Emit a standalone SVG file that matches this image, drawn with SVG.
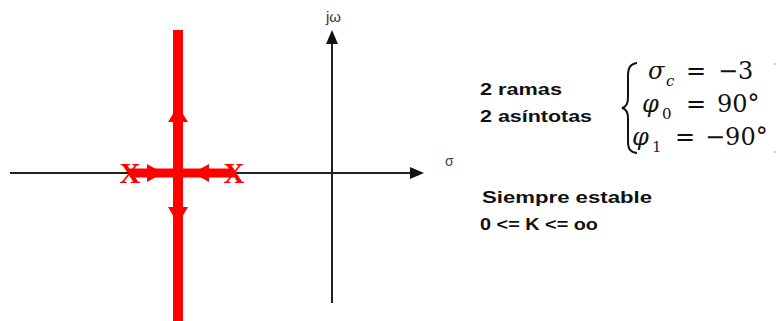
<svg xmlns="http://www.w3.org/2000/svg" width="782" height="321" viewBox="0 0 782 321">
<style>
.axis{stroke:#222;stroke-width:2;fill:none}
.ahead{fill:#111}
.red{stroke:#ff0000;fill:none}
.redfill{fill:#ff0000}
.lbl{font-family:"Liberation Sans",Arial,sans-serif;font-weight:bold;font-size:17px;fill:#111}
.math{font-family:"DejaVu Serif","Liberation Serif",serif;font-size:24px;fill:#111}
.it{font-style:italic}
.sub{font-size:15px}
.xm{font-family:"Liberation Serif","Times New Roman",serif;font-weight:bold;font-size:29px;fill:#ff0000}
</style>
<rect width="782" height="321" fill="#ffffff"/>
<g id="connectors">
  <g id="axes">
    <line class="axis" x1="10" y1="173" x2="412" y2="173"/>
    <polygon class="ahead" points="424,173 410,167 410,179"/>
    <line class="axis" x1="332" y1="303" x2="332" y2="42"/>
    <polygon class="ahead" points="332,30 326,44 338,44"/>
  </g>
  <g id="locus">
    <line class="red" stroke-width="10" x1="178" y1="30" x2="178" y2="321"/>
    <line class="red" stroke-width="9" x1="130" y1="173" x2="234" y2="173"/>
    <polygon class="redfill" points="178,106 168,122 188,122"/>
    <polygon class="redfill" points="178,224 168,207 188,207"/>
    <polygon class="redfill" points="163,173 147,164 147,182"/>
    <polygon class="redfill" points="193,173 209,164 209,182"/>
  </g>
</g>
<g id="pole-left"><text class="xm" x="130" y="183" text-anchor="middle">X</text></g>
<g id="pole-right"><text class="xm" x="234" y="183" text-anchor="middle">X</text></g>
<g id="label-jw"><text x="326" y="22" style="font-family:'Liberation Sans',Arial,sans-serif;font-size:15px;fill:#333">jω</text></g>
<g id="label-sigma"><text x="445" y="166" style="font-family:'Liberation Sans',Arial,sans-serif;font-size:14px;fill:#444">σ</text></g>
<g id="info">
  <text class="lbl" x="480" y="95" textLength="82" lengthAdjust="spacingAndGlyphs">2 ramas</text>
  <text class="lbl" x="480" y="122" textLength="112" lengthAdjust="spacingAndGlyphs">2 asíntotas</text>
  <text class="lbl" x="482" y="203" textLength="170" lengthAdjust="spacingAndGlyphs">Siempre estable</text>
  <text class="lbl" x="480" y="230" textLength="118" lengthAdjust="spacingAndGlyphs">0 &lt;= K &lt;= oo</text>
</g>
<g id="asymptotes">
  <path d="M637,63 C630,64 628,68 628,76 L628,98 C628,104 626,107 622,108 C626,109 628,112 628,118 L628,141 C628,149 630,152 637,153" fill="none" stroke="#111" stroke-width="2"/>
  <text class="math it" x="648" y="79">σ</text>
  <text class="math sub it" x="666" y="86">c</text>
  <text class="math" x="686" y="79">=</text>
  <text class="math" x="718" y="79">−3</text>
  <text class="math it" x="642" y="112">φ</text>
  <text class="math sub" x="662" y="119">0</text>
  <text class="math" x="686" y="112">=</text>
  <text class="math" x="717" y="112">90°</text>
  <text class="math it" x="632" y="145">φ</text>
  <text class="math sub" x="652" y="152" style="fill:#2a1a5e">1</text>
  <text class="math" x="675" y="145">=</text>
  <text class="math" x="705" y="145">−90°</text>
  <circle cx="775" cy="64" r="1" fill="#bbb"/>
  <circle cx="775" cy="152" r="1" fill="#bbb"/>
</g>
</svg>
